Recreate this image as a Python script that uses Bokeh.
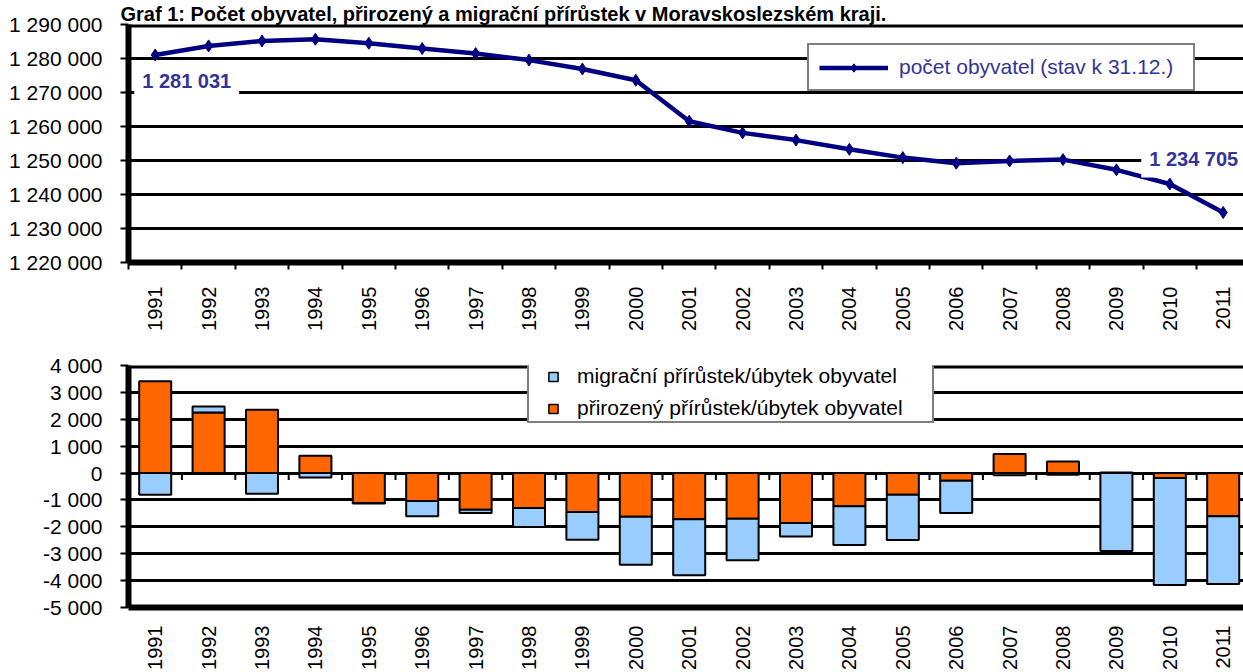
import math
from bokeh.plotting import figure
from bokeh.models import (Range1d, FixedTicker, Span, Label, Legend, LegendItem,
                          LinearAxis, Grid, Title)
from bokeh.layouts import column
from bokeh.embed import file_html
from bokeh.resources import INLINE

# ---------------- data ----------------
title_text = "Graf 1: Počet obyvatel, přirozený a migrační přírůstek v Moravskoslezském kraji."
years = list(range(1991, 2012))
population = [1281031, 1283700, 1285160, 1285650, 1284490, 1282920, 1281460,
              1279530, 1276900, 1273590, 1261550, 1258130, 1256000, 1253290,
              1250850, 1249210, 1249880, 1250260, 1247260, 1243080, 1234705]
natural = [3410, 2255, 2355, 644, -1115, -1040, -1363, -1300, -1450, -1623,
           -1722, -1698, -1860, -1239, -805, -285, 706, 434, 20, -186, -1611]
migration = [-805, 223, -768, -161, -20, -570, -124, -707, -1028, -1785,
             -2082, -1549, -495, -1438, -1686, -1202, -80, -60, -2900, -3978, -2515]
pop_ticks = list(range(1220000, 1290001, 10000))
diff_ticks = list(range(-5000, 4001, 1000))
line_label = "počet obyvatel (stav k 31.12.)"
mig_label = "migrační přírůstek/úbytek obyvatel"
nat_label = "přirozený přírůstek/úbytek obyvatel"

# ---------------- style ----------------
FONT = "Liberation Sans"
NAVY = "#000080"
LABEL_BLUE = "#333399"
ORANGE = "#FF6600"
LIGHT_BLUE = "#99CCFF"
W = 1243


def fmt(v):
    return f"{v:,}".replace(",", " ")


bounds = [y - 0.5 for y in years] + [years[-1] + 0.5]
x_start = years[0] - 0.5
x_end = years[-1] + 0.38


def style_fig(p):
    p.outline_line_color = None
    p.background_fill_color = "white"
    p.border_fill_color = "white"


def left_axis(ticks):
    return LinearAxis(ticker=FixedTicker(ticks=ticks),
                      major_label_overrides={v: fmt(v) for v in ticks},
                      major_tick_out=8, major_tick_in=0, major_tick_line_width=2,
                      major_tick_line_color="black", minor_tick_line_color=None,
                      axis_line_width=6, axis_line_color="black",
                      major_label_standoff=18,
                      major_label_text_font=FONT, major_label_text_font_size="21px",
                      major_label_text_color="black")


# ================= top chart =================
p1 = figure(width=W, height=353, output_backend="svg", toolbar_location=None,
            x_range=Range1d(x_start, x_end),
            y_range=Range1d(pop_ticks[0], pop_ticks[-1]),
            min_border_left=128, min_border_right=0, min_border_top=23,
            min_border_bottom=91, x_axis_type=None, y_axis_type=None)
style_fig(p1)
p1.title = Title(text=title_text, align="left", offset=-8, standoff=0,
                 text_font=FONT, text_font_style="bold", text_font_size="20px",
                 text_color="black")

ya1 = left_axis(pop_ticks)
p1.add_layout(ya1, "left")
p1.add_layout(Grid(dimension=1, ticker=ya1.ticker, grid_line_color="black",
                   grid_line_width=3))

xa1 = LinearAxis(ticker=FixedTicker(ticks=years, minor_ticks=bounds),
                 major_label_overrides={y: str(y) for y in years},
                 major_tick_out=0, major_tick_in=0, major_tick_line_color=None,
                 minor_tick_out=7, minor_tick_in=0, minor_tick_line_width=2,
                 minor_tick_line_color="black",
                 axis_line_width=6, axis_line_color="black",
                 major_label_orientation=math.pi / 2, major_label_standoff=17,
                 major_label_text_font=FONT, major_label_text_font_size="20px",
                 major_label_text_color="black")
p1.add_layout(xa1, "below")
p1.add_layout(Span(location=pop_ticks[-1], dimension="width",
                   line_color="black", line_width=6))

r_line = p1.line(years, population, line_color=NAVY, line_width=4.5)
r_pts = p1.scatter(years, population, marker="diamond", size=12,
                   fill_color=NAVY, line_color=NAVY)

lab_first = Label(x=years[0], y=population[0], text=fmt(population[0]),
                  x_offset=-21, y_offset=-7, text_align="left", text_baseline="top",
                  text_font=FONT, text_font_style="bold", text_font_size="20px",
                  text_color=LABEL_BLUE, background_fill_color="white", padding=8)
lab_last = Label(x=years[-1], y=population[-1], text=fmt(population[-1]),
                 x_offset=23, y_offset=54, text_align="right", text_baseline="middle",
                 text_font=FONT, text_font_style="bold", text_font_size="20px",
                 text_color=LABEL_BLUE, background_fill_color="white", padding=8)
p1.add_layout(lab_first)
p1.add_layout(lab_last)

leg1 = Legend(items=[LegendItem(label=line_label, renderers=[r_line, r_pts])],
              location=(679, 171), orientation="vertical",
              border_line_color="black", border_line_width=2,
              background_fill_color="white", background_fill_alpha=1,
              label_text_color=LABEL_BLUE, label_text_font=FONT,
              label_text_font_size="21px", glyph_width=69, glyph_height=21,
              label_height=21, label_width=284, label_standoff=11,
              padding=10, spacing=0, margin=0)
p1.add_layout(leg1)

# ================= bottom chart =================
p2 = figure(width=W, height=319, output_backend="svg", toolbar_location=None,
            x_range=Range1d(x_start, x_end),
            y_range=Range1d(diff_ticks[0], diff_ticks[-1]),
            min_border_left=128, min_border_right=0, min_border_top=12,
            min_border_bottom=65, x_axis_type=None, y_axis_type=None)
style_fig(p2)

ya2 = left_axis(diff_ticks)
p2.add_layout(ya2, "left")
p2.add_layout(Grid(dimension=1, ticker=ya2.ticker, grid_line_color="black",
                   grid_line_width=3))

xa2 = LinearAxis(ticker=FixedTicker(ticks=years),
                 major_label_overrides={y: str(y) for y in years},
                 major_tick_out=0, major_tick_in=0, major_tick_line_color=None,
                 minor_tick_line_color=None,
                 axis_line_width=6, axis_line_color="black",
                 major_label_orientation=math.pi / 2, major_label_standoff=18,
                 major_label_text_font=FONT, major_label_text_font_size="20px",
                 major_label_text_color="black")
p2.add_layout(xa2, "below")
p2.add_layout(Span(location=diff_ticks[-1], dimension="width",
                   line_color="black", line_width=6))

# tick marks on the zero line at category boundaries
tick_px = 7
tick_len = tick_px * (diff_ticks[-1] - diff_ticks[0]) / 242
inner_bounds = [y + 0.5 for y in years[:-1]]
p2.segment(x0=inner_bounds, y0=[0] * len(inner_bounds), x1=inner_bounds,
           y1=[-tick_len] * len(inner_bounds), line_color="black", line_width=2)

mig_bottom = [n if (n >= 0) == (m >= 0) else 0 for n, m in zip(natural, migration)]
mig_top = [b + m for b, m in zip(mig_bottom, migration)]

p2.vbar(x=years, width=0.6, bottom=0, top=natural, fill_color=ORANGE,
        line_color="black", line_width=2)
p2.vbar(x=years, width=0.6, bottom=mig_bottom, top=mig_top, fill_color=LIGHT_BLUE,
        line_color="black", line_width=2)

# zero-size markers: invisible in the plot, used as legend swatches
sw_mig = p2.scatter(x=years, y=mig_top, marker="square", size=0,
                    fill_color=LIGHT_BLUE, line_color="black", line_width=1.5)
sw_nat = p2.scatter(x=years, y=natural, marker="square", size=0,
                    fill_color=ORANGE, line_color="black", line_width=1.5)

leg2 = Legend(items=[LegendItem(label=mig_label, renderers=[sw_mig]),
                     LegendItem(label=nat_label, renderers=[sw_nat])],
              location=(399, 184), orientation="vertical",
              border_line_color="black", border_line_width=2,
              background_fill_color="white", background_fill_alpha=1,
              label_text_color="black", label_text_font=FONT,
              label_text_font_size="21px", glyph_width=46, glyph_height=23,
              label_height=23, label_width=354, label_standoff=1,
              padding=1, spacing=8, margin=0)
p2.add_layout(leg2)

layout = column(p1, p2, spacing=0)
open("out.html", "w").write(file_html(layout, INLINE))
